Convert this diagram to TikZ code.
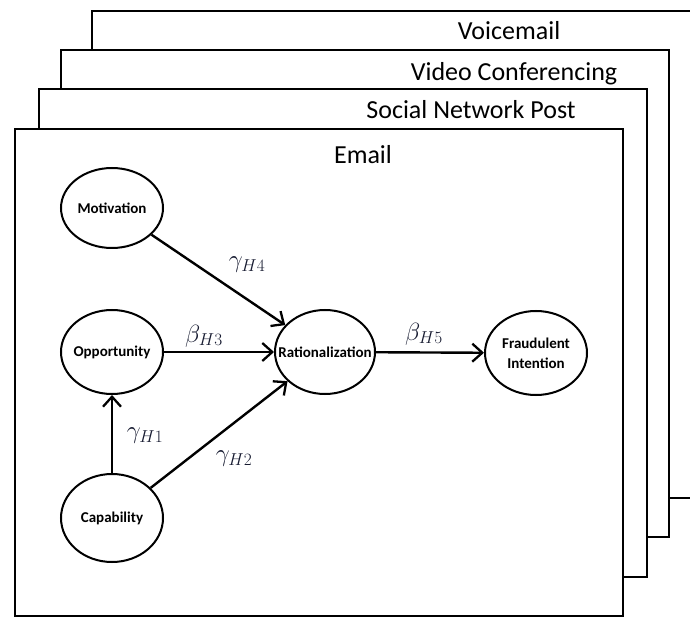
\documentclass[tikz,border=0pt]{standalone}
\usepackage{fontspec}
\setmainfont{Carlito}
\usetikzlibrary{arrows.meta,shapes.geometric}
\definecolor{mathink}{RGB}{22,26,48}
\tikzset{
  frame/.style={draw=black, fill=white, line width=2pt},
  frametitle/.style={font=\fontsize{26}{30}\selectfont, anchor=center},
  construct/.style={draw=black, line width=2pt, ellipse, inner sep=0pt},
  constructtext/.style={font=\bfseries\fontsize{15}{20}\selectfont, align=center, inner sep=0pt},
  link/.style={line width=2.4pt, -{Straight Barb[length=10pt,width=18pt,line width=2.3pt]}},
  coef/.style={text=mathink, font=\fontsize{24}{26}\selectfont, inner sep=0pt}
}
\begin{document}
\begin{tikzpicture}[x=1pt, y=-1pt]
  \useasboundingbox (0,0) rectangle (690,617);
  \clip (0,0) rectangle (690,617);

  % stacked channel frames, back to front
  \draw[frame] (92,11) rectangle (720,498);
  \node[frametitle] (tvoice) at (509,31) {Voicemail};
  \draw[frame] (61,50) rectangle (669,537);
  \node[frametitle] (tvideo) at (514,74) {Video Conferencing};
  \draw[frame] (39,89) rectangle (647,577);
  \node[frametitle] (tsocial) at (471,110) {Social Network Post};
  \draw[frame] (15,129) rectangle (623,615.5);
  \node[frametitle] (temail) at (363,155) {Email};

  % constructs (ellipse size fixed, text placed in the centre)
  \node[construct, minimum width=102pt, minimum height=80pt,
        label={[constructtext]center:Motivation}] (mot) at (112,208) {};
  \node[construct, minimum width=102pt, minimum height=84pt,
        label={[constructtext]center:Opportunity}] (opp) at (112,352) {};
  \node[construct, minimum width=102pt, minimum height=88pt,
        label={[constructtext]center:Capability}] (cap) at (112,518) {};
  \node[construct, minimum width=100pt, minimum height=84pt,
        label={[constructtext]center:Rationalization}] (rat) at (325,352) {};
  \node[construct, minimum width=102pt, minimum height=84pt,
        label={[constructtext]center:Fraudulent\\Intention}] (fraud) at (536,353) {};

  % paths
  \draw[link] (mot) -- (rat);
  \draw[link] (opp) -- (rat);
  \draw[link] (cap) -- (opp);
  \draw[link] (cap) -- (rat);
  \draw[link] (rat) -- (fraud);

  % path coefficients
  \node[coef] (g4) at (247,265) {$\gamma_{H4}$};
  \node[coef] (b3) at (204,336) {$\beta_{H3}$};
  \node[coef] (b5) at (424,334) {$\beta_{H5}$};
  \node[coef] (g1) at (145,436) {$\gamma_{H1}$};
  \node[coef] (g2) at (234,459) {$\gamma_{H2}$};
\end{tikzpicture}
\end{document}
